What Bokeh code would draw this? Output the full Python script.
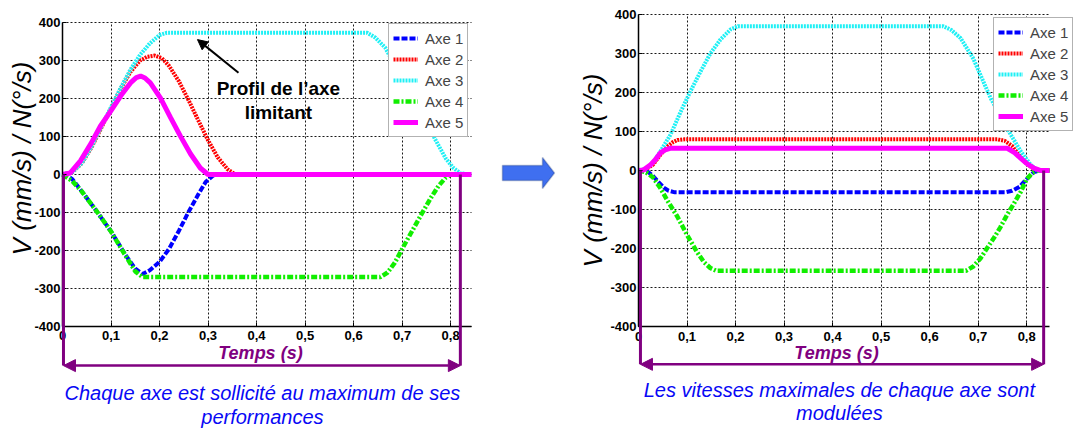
import math
from bokeh.plotting import figure
from bokeh.layouts import row
from bokeh.models import (Legend, LegendItem, Label, Arrow, NormalHead,
                          FixedTicker, PolyAnnotation)
from bokeh.embed import file_html
from bokeh.resources import INLINE

FONT = "Liberation Sans"

# ---------------- data ----------------
series_names = ["Axe 1", "Axe 2", "Axe 3", "Axe 4", "Axe 5"]

x_ticks = [0, 0.1, 0.2, 0.3, 0.4, 0.5, 0.6, 0.7, 0.8]
x_tick_labels = ["0", "0,1", "0,2", "0,3", "0,4", "0,5", "0,6", "0,7", "0,8"]
y_ticks = [-400, -300, -200, -100, 0, 100, 200, 300, 400]
y_tick_labels = ["-400", "-300", "-200", "-100", "0", "100", "200", "300", "400"]

# Left panel: each axis at its own maximum
L_axe1_t = [0, 0.01, 0.02, 0.04, 0.07, 0.10, 0.13, 0.15, 0.165, 0.18, 0.20, 0.22, 0.24, 0.26, 0.28, 0.295, 0.31, 0.32, 0.843]
L_axe1_v = [0, -3, -12, -45, -96, -150, -212, -248, -262, -252, -230, -195, -148, -98, -52, -20, -3, 0, 0]

L_axe2_t = [0, 0.02, 0.04, 0.06, 0.08, 0.10, 0.12, 0.14, 0.16, 0.175, 0.19, 0.205, 0.22, 0.24, 0.26, 0.28, 0.30, 0.32, 0.34, 0.356, 0.843]
L_axe2_v = [0, 6, 30, 72, 123, 175, 226, 270, 300, 310, 313, 306, 285, 245, 195, 142, 90, 45, 14, 0, 0]

L_axe3_t = [0, 0.02, 0.04, 0.06, 0.08, 0.10, 0.12, 0.14, 0.16, 0.18, 0.20, 0.215, 0.628, 0.645, 0.665, 0.69, 0.71, 0.73, 0.75, 0.77, 0.79, 0.805, 0.82, 0.843]
L_axe3_v = [0, 6, 30, 74, 126, 177, 228, 276, 315, 345, 367, 373, 373, 360, 334, 276, 230, 183, 136, 88, 42, 18, 3, 0]

L_axe4_t = [0, 0.02, 0.04, 0.07, 0.10, 0.13, 0.15, 0.165, 0.655, 0.67, 0.685, 0.70, 0.72, 0.74, 0.76, 0.775, 0.79, 0.80, 0.843]
L_axe4_v = [0, -17, -45, -96, -150, -214, -255, -270, -270, -258, -232, -196, -150, -104, -60, -30, -8, 0, 0]

L_axe5_t = [0, 0.016, 0.037, 0.058, 0.078, 0.10, 0.12, 0.14, 0.152, 0.161, 0.17, 0.181, 0.202, 0.223, 0.243, 0.264, 0.284, 0.30, 0.843]
L_axe5_v = [0, 4, 36, 80, 127, 168, 207, 241, 255, 259, 254, 241, 201, 149, 101, 54, 17, 0, 0]

# Right panel: maximum speeds modulated
R_axe1_t = [0, 0.01, 0.02, 0.03, 0.04, 0.052, 0.062, 0.075, 0.755, 0.77, 0.785, 0.80, 0.815, 0.83, 0.847]
R_axe1_v = [0, 0, -4, -14, -28, -44, -52, -56, -56, -52, -42, -22, -4, 0, 0]

R_axe2_t = [0, 0.015, 0.03, 0.045, 0.06, 0.07, 0.08, 0.095, 0.74, 0.755, 0.77, 0.785, 0.80, 0.815, 0.83, 0.847]
R_axe2_v = [0, 3, 15, 40, 62, 72, 78, 80, 80, 76, 63, 38, 17, 4, 0, 0]

R_axe3_t = [0, 0.015, 0.03, 0.045, 0.066, 0.087, 0.107, 0.128, 0.148, 0.169, 0.19, 0.205, 0.628, 0.645, 0.664, 0.69, 0.71, 0.726, 0.745, 0.767, 0.788, 0.808, 0.822, 0.847]
R_axe3_v = [0, 4, 20, 49, 92, 151, 203, 254, 300, 336, 362, 370, 370, 360, 339, 287, 230, 185, 142, 92, 49, 15, 0, 0]

R_axe4_t = [0, 0.015, 0.03, 0.045, 0.06, 0.08, 0.10, 0.12, 0.135, 0.148, 0.16, 0.675, 0.69, 0.705, 0.72, 0.732, 0.746, 0.76, 0.774, 0.788, 0.80, 0.812, 0.822, 0.847]
R_axe4_v = [0, -4, -18, -45, -78, -118, -165, -208, -235, -250, -257, -257, -246, -225, -196, -174, -145, -113, -84, -54, -22, -6, 0, 0]

R_axe5_t = [0, 0.01, 0.025, 0.035, 0.045, 0.055, 0.065, 0.075, 0.76, 0.775, 0.788, 0.80, 0.815, 0.829, 0.847]
R_axe5_v = [0, 1, 15, 28, 45, 53, 57, 57, 57, 46, 31, 18, 6, 0, 0]

# ---------------- styles ----------------
STYLES = [
    dict(color="#0000ff", line_width=4, line_dash="6 2"),
    dict(color="#ff0000", line_width=4, line_dash="2 1"),
    dict(color="#1ff0f5", line_width=4, line_dash="2 1"),
    dict(color="#11ee00", line_width=4.5, line_dash="6 2 2 2"),
    dict(color="#ff00ff", line_width=5, line_dash="solid"),
]
PURPLE = "#800080"
CAPTION_BLUE = "#0808f5"
H = 429


def make_panel(width, xr, yr, xmax, series, legend_loc):
    p = figure(width=width, height=H, x_range=xr, y_range=yr,
               output_backend="svg", toolbar_location=None,
               min_border_left=0, min_border_right=0,
               min_border_top=0, min_border_bottom=0)
    p.outline_line_color = None
    p.background_fill_color = "white"
    p.border_fill_color = "white"

    p.xaxis.fixed_location = -400
    p.yaxis.fixed_location = 0
    p.xaxis.bounds = (0, xmax)
    p.yaxis.bounds = (-400, 400)
    p.xaxis.ticker = FixedTicker(ticks=x_ticks)
    p.xaxis.major_label_overrides = dict(zip(x_ticks, x_tick_labels))
    p.yaxis.ticker = FixedTicker(ticks=y_ticks)
    p.yaxis.major_label_overrides = dict(zip(y_ticks, y_tick_labels))
    for ax in (p.xaxis, p.yaxis):
        ax.axis_line_color = "black"
        ax.axis_line_width = 1.5
        ax.major_tick_line_color = "black"
        ax.major_tick_in = 4
        ax.major_tick_out = 0
        ax.minor_tick_line_color = None
        ax.major_label_text_font = FONT
        ax.major_label_text_font_style = "bold"
        ax.major_label_text_font_size = "13px"
        ax.major_label_text_color = "black"
    p.xaxis.major_label_standoff = 5
    p.yaxis.major_label_standoff = 2

    p.grid.grid_line_color = "black"
    p.grid.grid_line_dash = "2 2"
    p.grid.grid_line_alpha = 0.9
    p.grid.grid_line_width = 1
    p.xgrid.bounds = (0, xmax)
    p.xgrid.cross_bounds = (-400, 400)
    p.ygrid.bounds = (-400, 400)
    p.ygrid.cross_bounds = (0, xmax)

    items = []
    for name, (t, v), st in zip(series_names, series, STYLES):
        r = p.line(t, v, **st)
        items.append(LegendItem(label=name, renderers=[r]))

    leg = Legend(items=items, location=legend_loc,
                 label_text_font=FONT, label_text_font_size="15px",
                 glyph_width=25, glyph_height=20, label_height=20,
                 label_standoff=7, spacing=1, padding=4, margin=0,
                 border_line_color="#666666", border_line_width=1,
                 background_fill_color="white", background_fill_alpha=1)
    p.add_layout(leg)
    return p


# frame covers the whole canvas; ranges chosen so that the plotting box sits
# where it sits in the picture (left: x 62..471 px, y 22..326 px)
left = make_panel(568, (-0.1278, 1.0429), (-671.1, 457.9), 0.843,
                  [(L_axe1_t, L_axe1_v), (L_axe2_t, L_axe2_v), (L_axe3_t, L_axe3_v),
                   (L_axe4_t, L_axe4_v), (L_axe5_t, L_axe5_v)],
                  (388, 292))
right = make_panel(508, (-0.1443, 0.9027), (-664.1, 435.9), 0.847,
                   [(R_axe1_t, R_axe1_v), (R_axe2_t, R_axe2_v), (R_axe3_t, R_axe3_v),
                    (R_axe4_t, R_axe4_v), (R_axe5_t, R_axe5_v)],
                   (425, 298))


def decorate(p, ylab_xy, temps_xy, cap_x, cap_y1, cap_y2, cap1, cap2,
             t0, t1, vbot):
    p.add_layout(Label(x=ylab_xy[0], y=ylab_xy[1], text="V (mm/s) / N(°/s)",
                       angle=math.pi / 2, text_align="center", text_baseline="middle",
                       text_font=FONT, text_font_style="italic", text_font_size="26px",
                       text_color="black"))
    p.add_layout(Label(x=temps_xy[0], y=temps_xy[1], text="Temps (s)",
                       text_align="center", text_baseline="middle",
                       text_font=FONT, text_font_style="bold italic", text_font_size="18px",
                       text_color=PURPLE))
    for cy, txt in ((cap_y1, cap1), (cap_y2, cap2)):
        p.add_layout(Label(x=cap_x, y=cy, text=txt, text_align="center",
                           text_baseline="middle", text_font=FONT,
                           text_font_style="italic", text_font_size="20px",
                           text_color=CAPTION_BLUE))
    for tx in (t0, t1):
        p.add_layout(Arrow(x_start=tx, y_start=0, x_end=tx, y_end=vbot,
                           start=None, end=None, line_color=PURPLE, line_width=3))
    p.add_layout(Arrow(x_start=t0, y_start=vbot, x_end=t1, y_end=vbot,
                       line_color=PURPLE, line_width=2.5,
                       start=NormalHead(size=12, fill_color=PURPLE, line_color=PURPLE),
                       end=NormalHead(size=12, fill_color=PURPLE, line_color=PURPLE)))


decorate(left, (-0.0845, 42), (0.408, -471), 0.412, -576, -637,
         "Chaque axe est sollicité au maximum de ses", "performances",
         0.002, 0.82, -503)
decorate(right, (-0.0948, 0), (0.408, -467), 0.414, -564, -623,
         "Les vitesses maximales de chaque axe sont", "modulées",
         0.004, 0.835, -497)

# annotation "Profil de l'axe limitant"
left.add_layout(Label(x=0.445, y=225, text="Profil de l’axe", text_align="center",
                      text_baseline="middle", text_font=FONT, text_font_style="bold",
                      text_font_size="19px", text_color="black"))
left.add_layout(Label(x=0.445, y=163, text="limitant", text_align="center",
                      text_baseline="middle", text_font=FONT, text_font_style="bold",
                      text_font_size="19px", text_color="black"))
left.add_layout(Arrow(x_start=0.3627, y_start=268, x_end=0.2782, y_end=355,
                      line_color="black", line_width=2,
                      end=NormalHead(size=10, fill_color="black", line_color="black")))

# blue block arrow between the two panels
left.add_layout(PolyAnnotation(
    xs=[0.9068, 0.9893, 0.9893, 1.014, 0.9893, 0.9893, 0.9068],
    ys=[23.7, 23.7, 44.7, 3.9, -36.8, -15.8, -15.8],
    fill_color="#3f6ff0", fill_alpha=1, line_color="#1c3470", line_width=1.5))

layout = row(left, right)
open("out.html", "w").write(file_html(layout, INLINE))
